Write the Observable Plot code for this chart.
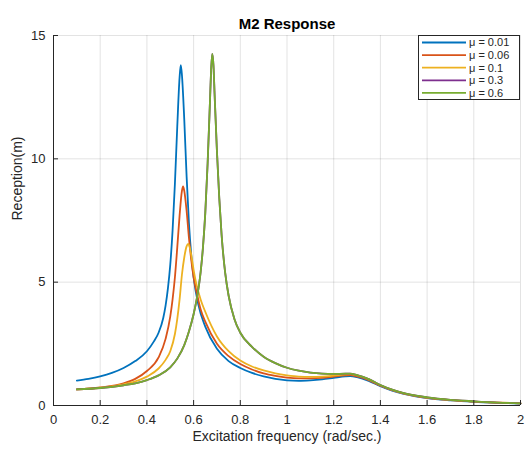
<!DOCTYPE html>
<html>
<head>
<meta charset="utf-8">
<script src="https://cdn.jsdelivr.net/npm/d3@7"></script>
<script src="https://cdn.jsdelivr.net/npm/@observablehq/plot@0.6"></script>
<style>
  html, body { margin: 0; padding: 0; background: #fff; }
</style>
</head>
<body>
<div id="chart"></div>
<script>
// ---- data ----
const title = "M2 Response";
const xLabel = "Excitation frequency (rad/sec.)";
const yLabel = "Reception(m)";
const xTicks = [0, 0.2, 0.4, 0.6, 0.8, 1, 1.2, 1.4, 1.6, 1.8, 2];
const yTicks = [0, 5, 10, 15];
const seriesLabels = ["μ = 0.01", "μ = 0.06", "μ = 0.1", "μ = 0.3", "μ = 0.6"];
const seriesColors = ["#0072BD", "#D95319", "#EDB120", "#7E2F8E", "#77AC30"];

const mu001 = [[0.1,1.01],[0.15,1.08],[0.2,1.18],[0.25,1.32],[0.3,1.52],[0.35,1.8],[0.4,2.2],[0.43,2.6],[0.45,2.95],[0.47,3.55],[0.48,4.05],[0.49,4.75],[0.5,5.7],[0.51,7.1],[0.52,9.0],[0.53,11.3],[0.54,13.3],[0.545,13.8],[0.55,13.4],[0.56,11.6],[0.57,9.3],[0.58,7.4],[0.59,6.1],[0.6,5.2],[0.62,4.1],[0.65,3.2],[0.7,2.3],[0.75,1.8],[0.8,1.52],[0.85,1.32],[0.9,1.18],[0.95,1.08],[1.0,1.02],[1.05,1.0],[1.1,1.02],[1.15,1.06],[1.2,1.12],[1.25,1.18],[1.27,1.19],[1.3,1.15],[1.35,1.0],[1.4,0.78],[1.45,0.6],[1.5,0.47],[1.6,0.3],[1.7,0.21],[1.8,0.15],[1.9,0.11],[2.0,0.08]];
const mu006 = [[0.1,0.65],[0.2,0.73],[0.3,0.9],[0.35,1.08],[0.4,1.4],[0.45,1.95],[0.48,2.7],[0.5,3.6],[0.51,4.3],[0.52,5.2],[0.53,6.4],[0.54,7.7],[0.55,8.7],[0.555,8.88],[0.56,8.7],[0.57,7.9],[0.58,6.8],[0.59,5.9],[0.6,5.2],[0.615,4.5],[0.63,3.9],[0.65,3.4],[0.7,2.5],[0.75,2.0],[0.8,1.68],[0.85,1.46],[0.9,1.3],[0.95,1.2],[1.0,1.13],[1.05,1.1],[1.1,1.1],[1.15,1.12],[1.2,1.17],[1.25,1.22],[1.27,1.23],[1.3,1.18],[1.35,1.03],[1.4,0.8],[1.45,0.62],[1.5,0.48],[1.6,0.31],[1.7,0.22],[1.8,0.16],[1.9,0.12],[2.0,0.09]];
const mu01 = [[0.1,0.65],[0.2,0.72],[0.3,0.86],[0.35,0.98],[0.4,1.17],[0.45,1.5],[0.48,1.85],[0.5,2.2],[0.52,2.9],[0.53,3.5],[0.54,4.3],[0.55,5.3],[0.56,6.0],[0.57,6.45],[0.577,6.55],[0.585,6.35],[0.59,6.1],[0.6,5.5],[0.61,5.0],[0.63,4.3],[0.65,3.8],[0.7,2.8],[0.75,2.2],[0.8,1.82],[0.85,1.58],[0.9,1.42],[0.95,1.3],[1.0,1.22],[1.05,1.17],[1.1,1.16],[1.15,1.17],[1.2,1.21],[1.25,1.26],[1.27,1.27],[1.3,1.22],[1.35,1.06],[1.4,0.82],[1.45,0.63],[1.5,0.49],[1.6,0.32],[1.7,0.22],[1.8,0.16],[1.9,0.12],[2.0,0.09]];
// μ = 0.3 is hidden underneath μ = 0.6 in the reference
const mu03 = [[0.1,0.65],[0.2,0.71],[0.3,0.82],[0.35,0.9],[0.4,1.03],[0.45,1.22],[0.5,1.55],[0.53,1.9],[0.56,2.45],[0.58,3.0],[0.6,3.7],[0.615,4.4],[0.63,5.4],[0.64,6.4],[0.65,7.8],[0.66,9.8],[0.67,12.3],[0.675,13.6],[0.68,14.25],[0.685,13.8],[0.69,12.6],[0.7,10.3],[0.71,8.4],[0.72,6.9],[0.735,5.4],[0.75,4.45],[0.775,3.5],[0.8,2.95],[0.85,2.38],[0.9,1.98],[0.95,1.72],[1.0,1.53],[1.05,1.41],[1.1,1.33],[1.15,1.29],[1.2,1.28],[1.25,1.29],[1.27,1.29],[1.3,1.23],[1.35,1.07],[1.4,0.83],[1.45,0.64],[1.5,0.5],[1.6,0.33],[1.7,0.23],[1.8,0.17],[1.9,0.12],[2.0,0.09]];
const mu06 = [[0.1,0.65],[0.2,0.71],[0.3,0.82],[0.35,0.9],[0.4,1.03],[0.45,1.22],[0.5,1.55],[0.53,1.9],[0.56,2.45],[0.58,3.0],[0.6,3.7],[0.615,4.4],[0.63,5.4],[0.64,6.4],[0.65,7.8],[0.66,9.8],[0.67,12.3],[0.675,13.6],[0.68,14.25],[0.685,13.8],[0.69,12.6],[0.7,10.3],[0.71,8.4],[0.72,6.9],[0.735,5.4],[0.75,4.45],[0.775,3.5],[0.8,2.95],[0.85,2.38],[0.9,1.98],[0.95,1.72],[1.0,1.53],[1.05,1.41],[1.1,1.33],[1.15,1.29],[1.2,1.28],[1.25,1.29],[1.27,1.29],[1.3,1.23],[1.35,1.07],[1.4,0.83],[1.45,0.64],[1.5,0.5],[1.6,0.33],[1.7,0.23],[1.8,0.17],[1.9,0.12],[2.0,0.09]];

const seriesData = [mu001, mu006, mu01, mu03, mu06];
const rows = seriesData.flatMap((s, i) => s.map(([x, y]) => ({x, y, mu: seriesLabels[i]})));

const ink = "#262626";
const font = "'Liberation Sans', Arial, Helvetica, sans-serif";

const plot = Plot.plot({
  width: 527,
  height: 450,
  marginLeft: 53,
  marginRight: 7,
  marginTop: 35,
  marginBottom: 45,
  style: {fontFamily: font, fontSize: "13px", color: ink, background: "#fff", overflow: "visible"},
  x: {domain: [0, 2]},
  y: {domain: [0, 15]},
  color: {domain: seriesLabels, range: seriesColors},
  marks: [
    Plot.gridX(xTicks, {stroke: ink, strokeOpacity: 0.13}),
    Plot.gridY(yTicks, {stroke: ink, strokeOpacity: 0.13}),
    Plot.line(rows, {x: "x", y: "y", z: "mu", stroke: "mu", strokeWidth: 1.8, curve: "monotone-x"}),
    Plot.ruleX(xTicks, {x: d => d, insetTop: 365, stroke: ink}),
    Plot.ruleY(yTicks, {y: d => d, insetRight: 462, stroke: ink}),
    Plot.ruleX([0], {stroke: ink}),
    Plot.ruleY([0], {stroke: ink}),
    Plot.axisX(xTicks, {tickSize: 0, tickPadding: 9, label: null, fontSize: 13, fill: ink, tickFormat: d => String(d)}),
    Plot.axisY(yTicks, {tickSize: 0, tickPadding: 8, label: null, fontSize: 13, fill: ink, tickFormat: d => String(d)}),
    Plot.text([title], {text: d => d, frameAnchor: "top", dy: -17, fontWeight: "bold", fontSize: 15, fill: "#000"}),
    Plot.text([xLabel], {text: d => d, frameAnchor: "bottom", dy: 35, fontSize: 14, fill: ink}),
    Plot.text([yLabel], {text: d => d, frameAnchor: "left", dx: -36, rotate: -90, fontSize: 14, fill: ink})
  ]
});

document.getElementById("chart").appendChild(plot);

// ---- legend (MATLAB-style box in the upper right of the axes) ----
(function () {
  const xs = plot.scale("x"), ys = plot.scale("y");
  const boxRight = xs.apply(2), boxTop = ys.apply(15);
  const boxW = 102, rowH = 12.6, boxH = rowH * seriesLabels.length + 1;
  const boxLeft = boxRight - boxW;
  const svg = d3.select(plot);
  const g = svg.append("g")
    .attr("font-family", font).attr("font-size", 11)
    .attr("text-anchor", "start");
  g.append("rect")
    .attr("x", boxLeft + 0.5).attr("y", boxTop + 0.5)
    .attr("width", boxW - 1).attr("height", boxH)
    .attr("fill", "#fff").attr("stroke", ink).attr("stroke-width", 1);
  seriesLabels.forEach((lab, i) => {
    const cy = boxTop + 7.5 + i * rowH;
    g.append("line")
      .attr("x1", boxLeft + 4).attr("x2", boxLeft + 48)
      .attr("y1", cy).attr("y2", cy)
      .attr("stroke", seriesColors[i]).attr("stroke-width", 1.8);
    g.append("text")
      .attr("x", boxLeft + 51).attr("y", cy).attr("dy", "0.35em")
      .attr("text-anchor", "start")
      .attr("fill", ink).text(lab);
  });
})();
</script>
</body>
</html>
